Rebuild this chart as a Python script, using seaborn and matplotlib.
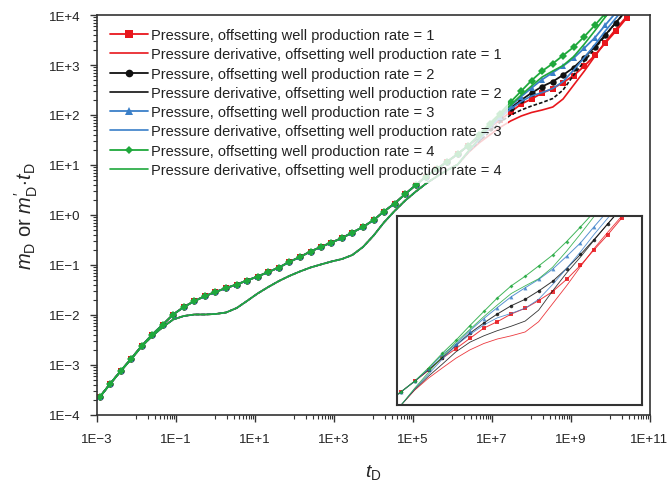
import numpy as np
import pandas as pd
import matplotlib
matplotlib.use("Agg")
import matplotlib.pyplot as plt
from matplotlib.ticker import FixedLocator, FuncFormatter, NullLocator, NullFormatter
from matplotlib.lines import Line2D
import seaborn as sns

# Dimensionless time, as log10(t_D)
log_t = [-2.93, -2.67, -2.40, -2.13, -1.87, -1.60, -1.33, -1.07, -0.80, -0.53,
         -0.26, 0.00, 0.27, 0.54, 0.80, 1.07, 1.34, 1.61, 1.87, 2.14,
         2.41, 2.67, 2.94, 3.21, 3.47, 3.74, 4.01, 4.27, 4.54, 4.81,
         5.08, 5.34, 5.61, 5.88, 6.14, 6.41, 6.68, 6.95, 7.21, 7.48,
         7.75, 8.01, 8.28, 8.55, 8.81, 9.08, 9.35, 9.62, 9.88, 10.15, 10.42]

# log10 of dimensionless pressure, common to all rates at early time
pressure_shared = [-3.64, -3.38, -3.12, -2.87, -2.62, -2.39, -2.19, -1.99, -1.84, -1.72,
                   -1.62, -1.54, -1.46, -1.39, -1.31, -1.23, -1.14, -1.05, -0.94, -0.84,
                   -0.73, -0.64, -0.55, -0.46, -0.35, -0.24, -0.10, 0.07, 0.23, 0.42,
                   0.60, 0.77, 0.92, 1.07, 1.22, 1.39]
# late-time pressure for each offsetting well production rate
pressure_rate1 = [1.56, 1.75, 1.90, 2.06, 2.22, 2.32, 2.44, 2.53, 2.65, 2.79, 2.98, 3.20, 3.44, 3.68, 3.94]
pressure_rate2 = [1.57, 1.76, 1.95, 2.14, 2.30, 2.44, 2.57, 2.67, 2.80, 2.95, 3.15, 3.37, 3.60, 3.85, 4.10]
pressure_rate3 = [1.58, 1.81, 1.97, 2.18, 2.37, 2.54, 2.71, 2.85, 2.98, 3.14, 3.34, 3.55, 3.80, 4.05, 4.30]
pressure_rate4 = [1.60, 1.83, 2.03, 2.26, 2.48, 2.69, 2.88, 3.03, 3.19, 3.36, 3.57, 3.80, 4.03, 4.28, 4.52]

# log10 of the pressure derivative, common part then per-rate tails
derivative_shared = [-3.64, -3.38, -3.12, -2.88, -2.63, -2.42, -2.24, -2.09, -2.02, -1.99,
                     -1.99, -1.98, -1.95, -1.86, -1.72, -1.57, -1.44, -1.32, -1.22, -1.13,
                     -1.05, -0.99, -0.93, -0.88, -0.80, -0.64, -0.41, -0.15, 0.08, 0.29,
                     0.47, 0.63, 0.77, 0.90, 1.01]
derivative_rate1 = [1.25, 1.44, 1.60, 1.75, 1.88, 1.98, 2.05, 2.10, 2.16, 2.32, 2.60, 2.88, 3.18, 3.46, 3.72, 3.97]
derivative_rate2 = [1.26, 1.47, 1.66, 1.85, 2.00, 2.10, 2.18, 2.25, 2.33, 2.50, 2.80, 3.08, 3.33, 3.59, 3.85, 4.10]
derivative_rate3 = [1.27, 1.50, 1.74, 1.95, 2.12, 2.27, 2.38, 2.45, 2.53, 2.67, 2.90, 3.15, 3.41, 3.68, 3.94, 4.20]
derivative_rate4 = [1.28, 1.53, 1.78, 2.00, 2.20, 2.40, 2.58, 2.76, 2.88, 2.99, 3.17, 3.42, 3.69, 3.96, 4.22, 4.48]

rates = [1, 2, 3, 4]
colors = ["#e8161c", "#111111", "#3a7fc8", "#1fa83c"]
markers = ["s", "o", "^", "D"]
marker_sizes = [4.6, 4.6, 5.0, 3.6]
pressure_tails = [pressure_rate1, pressure_rate2, pressure_rate3, pressure_rate4]
derivative_tails = [derivative_rate1, derivative_rate2, derivative_rate3, derivative_rate4]

sns.set_style("ticks")
plt.rcParams["font.family"] = ["Liberation Sans", "DejaVu Sans"]
plt.rcParams["mathtext.fontset"] = "custom"
plt.rcParams["mathtext.rm"] = "Liberation Sans"
plt.rcParams["mathtext.it"] = "Liberation Sans:italic"

t = np.power(10.0, log_t)
frames = []
for r, pt, dt in zip(rates, pressure_tails, derivative_tails):
    frames.append(pd.DataFrame({"t": t, "m": np.power(10.0, pressure_shared + pt),
                                "kind": "Pressure", "rate": r}))
    frames.append(pd.DataFrame({"t": t, "m": np.power(10.0, derivative_shared + dt),
                                "kind": "Pressure derivative", "rate": r}))
df = pd.concat(frames, ignore_index=True)

fig = plt.figure(figsize=(6.72, 4.89), dpi=100)
ax = fig.add_axes([97 / 672, 1 - 416 / 489, (649.5 - 97) / 672, (416 - 16) / 489])
ax.set_xscale("log")
ax.set_yscale("log")

spine_color = "#333333"


def draw_series(axis, lw_p, lw_d, ms_scale, main=True):
    for r, c, mk, ms in zip(rates, colors, markers, marker_sizes):
        sub_p = df[(df["rate"] == r) & (df["kind"] == "Pressure")]
        sub_d = df[(df["rate"] == r) & (df["kind"] == "Pressure derivative")]
        sns.lineplot(data=sub_p, x="t", y="m", ax=axis, color=c, linewidth=lw_p,
                     marker=mk, markersize=ms * ms_scale, markeredgewidth=0,
                     legend=False, estimator=None, sort=True)
        ls = (0, (2.2, 1.2)) if (main and r == 2) else "-"
        sns.lineplot(data=sub_d, x="t", y="m", ax=axis, color=c, linewidth=lw_d,
                     linestyle=ls, legend=False, estimator=None, sort=True)


draw_series(ax, 1.3, 1.2, 1.0, main=True)

ax.set_xlim(1e-3, 1e11)
ax.set_ylim(1e-4, 1e4)


def log_label(v, pos):
    e = int(round(np.log10(v)))
    return f"1E+{e}" if e >= 0 else f"1E\u2212{-e}"


x_major = [10.0 ** e for e in range(-3, 12, 2)]
x_minor = [k * 10.0 ** (e + 1) for e in range(-3, 11, 2) for k in range(1, 10)]
ax.xaxis.set_major_locator(FixedLocator(x_major))
ax.xaxis.set_minor_locator(FixedLocator(x_minor))
ax.xaxis.set_major_formatter(FuncFormatter(log_label))
ax.xaxis.set_minor_formatter(NullFormatter())
y_major = [10.0 ** e for e in range(-4, 5)]
y_minor = [k * 10.0 ** e for e in range(-4, 4) for k in range(2, 10)]
ax.yaxis.set_major_locator(FixedLocator(y_major))
ax.yaxis.set_minor_locator(FixedLocator(y_minor))
ax.yaxis.set_major_formatter(FuncFormatter(log_label))
ax.yaxis.set_minor_formatter(NullFormatter())

ax.tick_params(which="major", direction="out", length=5, width=1.0, color=spine_color,
               labelsize=9.5, labelcolor="#222222")
ax.tick_params(axis="x", which="major", pad=8)
ax.tick_params(axis="y", which="major", pad=7)
ax.tick_params(which="minor", direction="out", length=3, width=0.8, color=spine_color)
for s in ax.spines.values():
    s.set_visible(True)
    s.set_color(spine_color)
    s.set_linewidth(1.2)

ax.set_xlabel(r"$t_\mathrm{D}$", fontsize=14, labelpad=12)
ax.set_ylabel(r"$m_\mathrm{D}$ or $m^{\prime}_\mathrm{D}\!\cdot\! t_\mathrm{D}$", fontsize=14.5, labelpad=6)

handles, labels = [], []
for r, c, mk, ms in zip(rates, colors, markers, marker_sizes):
    handles.append(Line2D([], [], color=c, lw=1.3, marker=mk, markersize=ms * 1.2, markeredgewidth=0))
    labels.append(f"Pressure, offsetting well production rate = {r}")
    handles.append(Line2D([], [], color=c, lw=1.2))
    labels.append(f"Pressure derivative, offsetting well production rate = {r}")
leg = ax.legend(handles, labels, loc="upper left", fontsize=10.5, frameon=True,
                framealpha=0.8, edgecolor="none", facecolor="white", fancybox=False,
                handlelength=2.6, handletextpad=0.2, labelspacing=0.36,
                borderpad=0.45, borderaxespad=0.45)
for txt in leg.get_texts():
    txt.set_color("#222222")

# magnified view of the late-time split between rates
axin = fig.add_axes([397 / 672, 1 - 406 / 489, 245 / 672, 189 / 489])
axin.set_xscale("log")
axin.set_yscale("log")
draw_series(axin, 0.7, 0.6, 0.55, main=False)
for line in axin.lines:
    line.set_alpha(0.85)
axin.set_xlim(10 ** 6.07, 10 ** 10.81)
axin.set_ylim(10 ** 1.02, 10 ** 3.97)
axin.xaxis.set_major_locator(NullLocator())
axin.xaxis.set_minor_locator(NullLocator())
axin.yaxis.set_major_locator(NullLocator())
axin.yaxis.set_minor_locator(NullLocator())
axin.set_xlabel("")
axin.set_ylabel("")
axin.set_facecolor("white")
for s in axin.spines.values():
    s.set_visible(True)
    s.set_color(spine_color)
    s.set_linewidth(1.5)

fig.savefig("out.png", dpi=100)
